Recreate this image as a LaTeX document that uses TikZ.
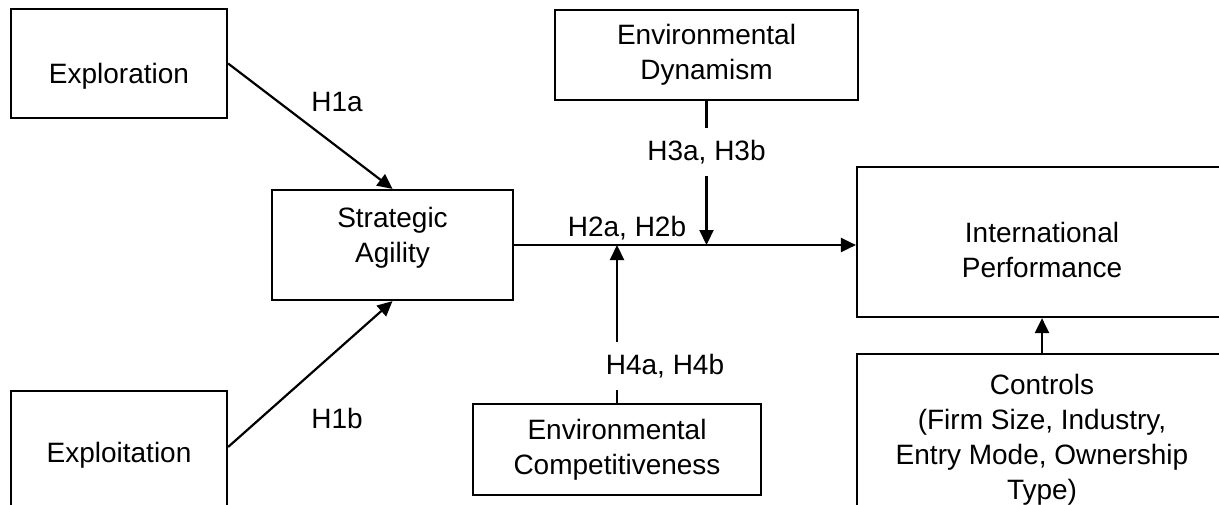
\documentclass[tikz,border=0pt]{standalone}
\usepackage{fontspec}
\setmainfont{Liberation Sans}
\usetikzlibrary{arrows.meta}

\tikzset{
    box/.style={draw, line width=1.1pt, align=center, inner sep=4pt,
        font=\fontsize{14}{17.5}\selectfont},
    hyp/.style={inner sep=6pt, font=\fontsize{14}{17.5}\selectfont},
    link/.style={line width=1.1pt},
    linkarrow/.style={line width=1.1pt, -{Triangle[length=7.5pt,width=7pt]}},
}

\begin{document}
\begin{tikzpicture}[x=0.5pt, y=-0.5pt]
        \clip[use as bounding box] (0,0) rectangle (1219,504);

        % Antecedents
        \node[box, minimum width=108pt, minimum height=54.5pt, text height=23pt] (explor) at (119, 63.5) {Exploration};
        \node[box, minimum width=108pt, minimum height=64pt] (exploit) at (119, 455) {Exploitation};
        \node[box, minimum width=120.5pt, minimum height=55pt, text depth=10pt] (agility) at (392.5, 245) {Strategic\\Agility};

        % Moderators
        \node[box, minimum width=151.5pt, minimum height=45pt] (dynam) at (706.5, 55) {Environmental\\Dynamism};
        \node[box, minimum width=144pt, minimum height=45.5pt] (compet) at (617, 449.5) {Environmental\\Competitiveness};

        % Outcome
        \node[box, minimum width=185pt, minimum height=75pt, text height=36pt] (perf) at (1042, 242) {International\\Performance};
        \node[box, minimum width=185pt, minimum height=86pt] (controls) at (1042, 440)
            {Controls\\(Firm Size, Industry,\\Entry Mode, Ownership\\Type)};

        % Hypotheses
        \node[hyp] (h1a) at (337, 102) {H1a};
        \node[hyp] (h1b) at (337, 418) {H1b};
        \node[hyp] (h2) at (627, 228) {H2a, H2b};
        \node[hyp] (h3) at (706.5, 152) {H3a, H3b};
        \node[hyp] (h4) at (665, 366) {H4a, H4b};

        % Paths
        \draw[linkarrow] (explor.east) -- (agility.north);
        \draw[linkarrow] ([yshift=4pt]exploit.east) -- (agility.south);
        \draw[linkarrow] (agility.east) -- (agility.east -| perf.west);
        \draw[link] (dynam.south) -- (h3.north);
        \draw[linkarrow] (h3.south) -- (h3.south |- agility.east);
        \draw[link] (compet.north) -- (compet.north |- h4.south);
        \draw[linkarrow] (compet.north |- h4.north) -- (compet.north |- agility.east);
        \draw[linkarrow] (controls.north) -- (perf.south);
\end{tikzpicture}
\end{document}
